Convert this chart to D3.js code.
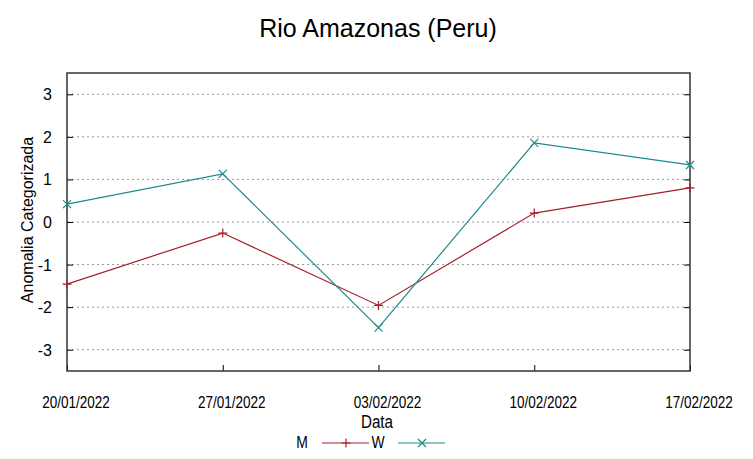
<!DOCTYPE html>
<html>
<head>
<meta charset="utf-8">
<script src="https://cdn.jsdelivr.net/npm/d3@7"></script>
<style>
body { margin: 0; background: #fff; }
svg { font-family: "Liberation Sans", Arial, sans-serif; }
</style>
</head>
<body>
<svg width="753" height="459"></svg>
<script>
const dates = ["20/01/2022", "27/01/2022", "03/02/2022", "10/02/2022", "17/02/2022"]
const mValues = [-1.46, -0.26, -1.96, 0.21, 0.80]
const wValues = [0.42, 1.13, -2.48, 1.86, 1.34]
const yTicks = [-3, -2, -1, 0, 1, 2, 3]

const colM = "#a51e2a", colW = "#1d8a8a"
const svg = d3.select("svg")
const pLeft = 67, pRight = 690, pTop = 73, pBottom = 371

const x = d3.scalePoint().domain(dates).range([pLeft, pRight])
const y = d3.scaleLinear().domain([-3.5, 3.5]).range([pBottom, pTop])

// Liberation Sans squeezed horizontally, stands in for the narrow font
function narrowText(cx, cy, size, txt) {
    return svg.append("text")
        .attr("transform", `translate(${cx},${cy}) scale(0.82,1)`)
        .attr("text-anchor", "middle").attr("font-size", size).text(txt)
}

// grid
svg.append("g").selectAll("line").data(yTicks).enter().append("line")
    .attr("x1", pLeft).attr("x2", pRight)
    .attr("y1", d => y(d)).attr("y2", d => y(d))
    .attr("stroke", "#999").attr("stroke-width", 1).attr("stroke-dasharray", "2,3")

// axes ticks
svg.append("g").attr("transform", `translate(${pLeft},0)`)
    .call(d3.axisRight(y).tickValues(yTicks).tickSize(6).tickFormat(""))
svg.append("g").attr("transform", `translate(${pRight},0)`)
    .call(d3.axisLeft(y).tickValues(yTicks).tickSize(6).tickFormat(""))
svg.append("g").attr("transform", `translate(0,${pBottom})`)
    .call(d3.axisTop(x).tickSize(6).tickFormat(""))
svg.selectAll(".domain").remove()
svg.selectAll(".tick line").attr("stroke", "#000")

svg.append("rect").attr("x", pLeft).attr("y", pTop)
    .attr("width", pRight - pLeft).attr("height", pBottom - pTop)
    .attr("fill", "none").attr("stroke", "#333").attr("stroke-width", 1.5)

// tick labels
svg.append("g").selectAll("text").data(yTicks).enter().append("text")
    .attr("x", 52).attr("y", d => y(d) + 6)
    .attr("text-anchor", "end").attr("font-size", 16).text(d => d)
dates.forEach(d => narrowText(x(d) + 9, 408, 16.5, d))

// titles
svg.append("text").attr("x", 378).attr("y", 37).attr("text-anchor", "middle")
    .attr("font-size", 25).text("Rio Amazonas (Peru)")
svg.append("text").attr("transform", "translate(33,220) rotate(-90)")
    .attr("text-anchor", "middle").attr("font-size", 16).text("Anomalia Categorizada")
narrowText(377, 428, 18.5, "Data")

// lines
const line = d3.line().x((d, i) => x(dates[i])).y(d => y(d))
function plus(g, cx, cy) {
    g.append("path").attr("d", `M${cx - 4.5},${cy}H${cx + 4.5}M${cx},${cy - 4.5}V${cy + 4.5}`)
}
function cross(g, cx, cy) {
    g.append("path").attr("d", `M${cx - 4},${cy - 4}L${cx + 4},${cy + 4}M${cx - 4},${cy + 4}L${cx + 4},${cy - 4}`)
}
const series = [
    { name: "M", values: mValues, color: colM, marker: plus },
    { name: "W", values: wValues, color: colW, marker: cross }
]
series.forEach(s => {
    svg.append("path").datum(s.values).attr("d", line)
        .attr("fill", "none").attr("stroke", s.color).attr("stroke-width", 1.2)
    const g = svg.append("g").attr("stroke", s.color).attr("stroke-width", 1.2)
    s.values.forEach((v, i) => s.marker(g, x(dates[i]), y(v)))
})

// legend
const legX = [302, 378]
series.forEach((s, i) => {
    narrowText(legX[i], 448, 17, s.name)
    const lx = legX[i] + 20
    svg.append("line").attr("x1", lx).attr("x2", lx + 47).attr("y1", 443).attr("y2", 443)
        .attr("stroke", s.color).attr("stroke-width", 1.2)
    const g = svg.append("g").attr("stroke", s.color).attr("stroke-width", 1.2)
    s.marker(g, lx + 24, 443)
})
</script>
</body>
</html>
